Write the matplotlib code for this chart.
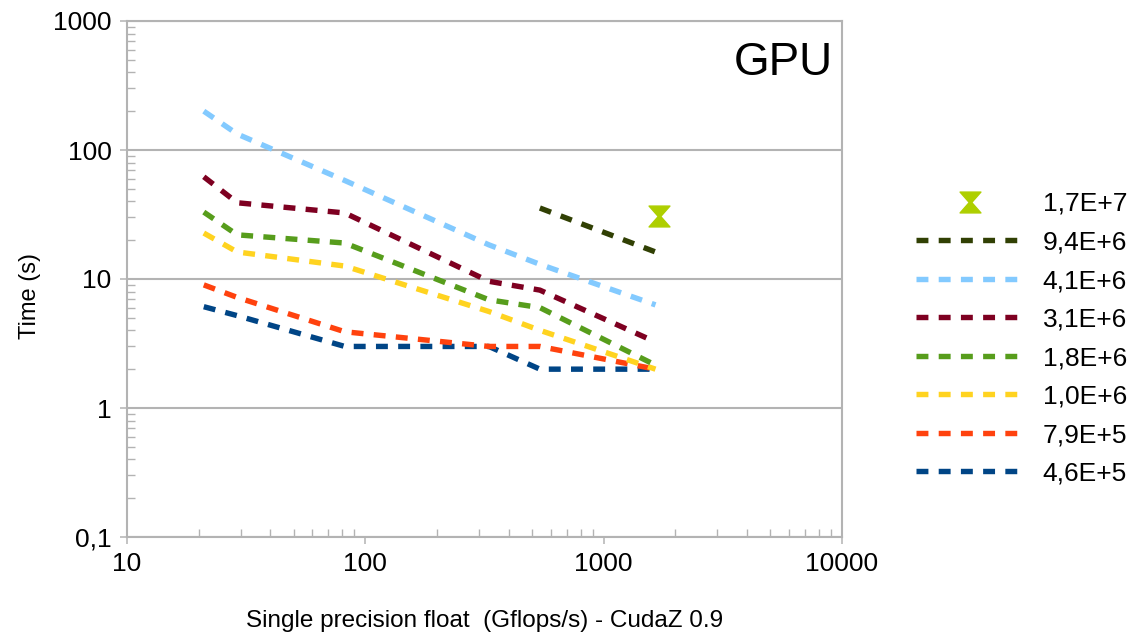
import matplotlib
matplotlib.use('Agg')
import matplotlib.pyplot as plt
from matplotlib.path import Path
from matplotlib.ticker import FixedLocator, NullFormatter

plt.rcParams['font.family'] = ['Liberation Sans', 'DejaVu Sans']

# dane (GPU, CudaZ 0.9)
gflops = [21, 29, 82, 330, 540, 1650]
t_46e5 = [6.1, 5.2, 3.0, 3.0, 2.0, 2.0]
t_79e5 = [9.0, 7.2, 3.9, 3.0, 3.0, 2.0]
t_10e6 = [22.7, 16.2, 12.6, 5.6, 4.0, 2.0]
t_18e6 = [33, 22, 19, 6.9, 6.0, 2.15]
t_31e6 = [62, 39, 32.5, 9.6, 8.2, 3.25]
t_41e6 = [200, 133, 58, 18.4, 13, 6.3]
gflops_94e6 = [540, 1650]
t_94e6 = [35.5, 16.2]
gflops_17e7 = [1700]
t_17e7 = [30.8]

labels = ['4,6E+5', '7,9E+5', '1,0E+6', '1,8E+6', '3,1E+6', '4,1E+6', '9,4E+6', '1,7E+7']
colors = ['#004586', '#ff420e', '#ffd320', '#579d1c', '#7e0021', '#83caff', '#314004', '#aecf00']

fig = plt.figure(figsize=(11.3, 6.33), dpi=100)
ax = fig.add_axes([127 / 1130, 1 - 537 / 633, 715 / 1130, 516 / 633])

series = [t_46e5, t_79e5, t_10e6, t_18e6, t_31e6, t_41e6]
handles = []
for t, lab, c in zip(series, labels[:6], colors[:6]):
    h, = ax.plot(gflops, t, color=c, lw=3.9, dashes=(2.2, 1.9),
                 dash_capstyle='butt', label=lab)
    handles.append(h)
h, = ax.plot(gflops_94e6, t_94e6, color=colors[6], lw=3.9, dashes=(2.2, 1.9),
             dash_capstyle='butt', label=labels[6])
handles.append(h)

# klepsydra jak w LibreOffice
hourglass = Path([(-1, 1), (1, 1), (0.12, 0), (1, -1), (-1, -1), (-0.12, 0), (-1, 1)],
                 [Path.MOVETO] + [Path.LINETO] * 5 + [Path.CLOSEPOLY])
h, = ax.plot(gflops_17e7, t_17e7, ls='none', marker=hourglass, ms=15,
             color=colors[7], mec=colors[7], label=labels[7])
handles.append(h)

ax.set_xscale('log')
ax.set_yscale('log')
ax.set_xlim(10, 10000)
ax.set_ylim(0.1, 1000)

ax.xaxis.set_major_locator(FixedLocator([10, 100, 1000, 10000]))
ax.set_xticklabels(['10', '100', '1000', '10000'])
ax.yaxis.set_major_locator(FixedLocator([0.1, 1, 10, 100, 1000]))
ax.set_yticklabels(['0,1', '1', '10', '100', '1000'])
xminor = [m * 10 ** d for d in range(1, 4) for m in range(2, 10)]
yminor = [m * 10 ** d for d in range(-1, 3) for m in range(2, 10)]
ax.xaxis.set_minor_locator(FixedLocator(xminor))
ax.yaxis.set_minor_locator(FixedLocator(yminor))
ax.xaxis.set_minor_formatter(NullFormatter())
ax.yaxis.set_minor_formatter(NullFormatter())

ax.tick_params(which='major', direction='out', length=5, width=1.1,
               color='#b3b3b3', labelsize=19, pad=6, labelcolor='black')
ax.tick_params(which='minor', direction='in', length=6, width=1.0, color='#b3b3b3')

ax.yaxis.grid(True, which='major', color='#b3b3b3', lw=1.5)
ax.set_axisbelow(True)
for s in ax.spines.values():
    s.set_color('#b3b3b3')
    s.set_linewidth(1.5)

fig.text(485 / 1130, 1 - 621 / 633, 'Single precision float  (Gflops/s) - CudaZ 0.9',
         ha='center', va='center', fontsize=17.5)
fig.text(30 / 1130, 1 - 296 / 633, 'Time (s)', rotation=90,
         ha='center', va='center', fontsize=17)
fig.text(833 / 1130, 1 - 75 / 633, 'GPU', ha='right', va='baseline', fontsize=33)

ax.legend(handles[::-1], labels[::-1], loc='upper left',
          bbox_to_anchor=(916 / 1130, 1 - 192 / 633), bbox_transform=fig.transFigure,
          frameon=False, fontsize=19, handlelength=4.1, handletextpad=0.7,
          labelspacing=0.55, borderpad=0, borderaxespad=0)

fig.savefig('out.png', dpi=100)
